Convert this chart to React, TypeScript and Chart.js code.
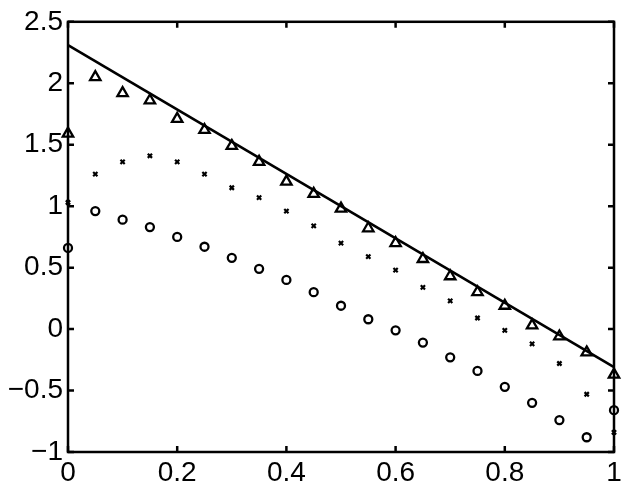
import React, { useEffect, useRef } from "react";
import { Chart, registerables } from "chart.js";

Chart.register(...registerables);

const xValues = [0, 0.05, 0.1, 0.15, 0.2, 0.25, 0.3, 0.35, 0.4, 0.45, 0.5, 0.55, 0.6, 0.65, 0.7, 0.75, 0.8, 0.85, 0.9, 0.95, 1.0];
const triangleValues = [1.59, 2.05, 1.92, 1.86, 1.71, 1.62, 1.49, 1.36, 1.2, 1.1, 0.98, 0.82, 0.7, 0.57, 0.43, 0.3, 0.19, 0.03, -0.06, -0.19, -0.37];
const crossValues = [1.03, 1.26, 1.36, 1.41, 1.36, 1.26, 1.15, 1.07, 0.96, 0.84, 0.7, 0.59, 0.48, 0.34, 0.23, 0.09, -0.01, -0.12, -0.28, -0.53, -0.84];
const circleValues = [0.66, 0.96, 0.89, 0.83, 0.75, 0.67, 0.58, 0.49, 0.4, 0.3, 0.19, 0.08, -0.01, -0.11, -0.23, -0.34, -0.47, -0.6, -0.74, -0.88, -0.66];
const lineX = [0, 1];
const lineY = [2.31, -0.31];
const xTickLabels = ["0", "0.2", "0.4", "0.6", "0.8", "1"];
const yTickLabels = ["\u22121", "\u22120.5", "0", "0.5", "1", "1.5", "2", "2.5"];

const toPoints = (xs: number[], ys: number[]) => xs.map((x, i) => ({ x, y: ys[i] }));

const boxPlugin = {
  id: "boxTicks",
  afterDatasetsDraw(chart: any) {
    const { ctx, chartArea, scales } = chart;
    const { left, right, top, bottom } = chartArea;
    const len = 6;
    ctx.save();
    ctx.strokeStyle = "#000";
    ctx.lineWidth = 2.5;
    ctx.beginPath();
    scales.x.ticks.forEach((t: any) => {
      const px = scales.x.getPixelForValue(t.value);
      ctx.moveTo(px, bottom);
      ctx.lineTo(px, bottom - len);
      ctx.moveTo(px, top);
      ctx.lineTo(px, top + len);
    });
    scales.y.ticks.forEach((t: any) => {
      const py = scales.y.getPixelForValue(t.value);
      ctx.moveTo(left, py);
      ctx.lineTo(left + len, py);
      ctx.moveTo(right, py);
      ctx.lineTo(right - len, py);
    });
    ctx.stroke();
    ctx.strokeRect(left, top, right - left, bottom - top);
    ctx.restore();
  },
};

export default function App() {
  const ref = useRef<HTMLCanvasElement | null>(null);
  useEffect(() => {
    if (!ref.current) return;
    const font = { family: "'Liberation Sans', Arial, sans-serif", size: 28 };
    const chart = new Chart(ref.current, {
      type: "scatter",
      data: {
        datasets: [
          {
            type: "line",
            data: toPoints(lineX, lineY),
            borderColor: "#000",
            borderWidth: 2.6,
            pointRadius: 0,
            fill: false,
            clip: false,
          } as any,
          {
            data: toPoints(xValues, triangleValues),
            pointStyle: "triangle",
            pointRadius: 6,
            borderColor: "#000",
            backgroundColor: "rgba(0,0,0,0)",
            borderWidth: 2.3,
            clip: false,
          } as any,
          {
            data: toPoints(xValues, crossValues),
            pointStyle: "crossRot",
            pointRadius: 3,
            borderColor: "#000",
            borderWidth: 2.2,
            clip: false,
          } as any,
          {
            data: toPoints(xValues, circleValues),
            pointStyle: "circle",
            pointRadius: 4,
            borderColor: "#000",
            backgroundColor: "rgba(0,0,0,0)",
            borderWidth: 2.3,
            clip: false,
          } as any,
        ],
      },
      options: {
        animation: false,
        responsive: false,
        layout: { padding: { top: 21, right: 15, left: 0, bottom: 0 } },
        plugins: { legend: { display: false }, tooltip: { enabled: false } },
        scales: {
          x: {
            type: "linear",
            min: 0,
            max: 1,
            grid: { display: false, drawTicks: false },
            border: { display: false },
            ticks: {
              stepSize: 0.2,
              color: "#000",
              font,
              padding: 4,
              maxRotation: 0,
              callback: (_v: any, i: number) => xTickLabels[i],
            },
            afterFit: (s: any) => {
              s.height = 39;
            },
          },
          y: {
            type: "linear",
            min: -1,
            max: 2.5,
            grid: { display: false, drawTicks: false },
            border: { display: false },
            ticks: {
              stepSize: 0.5,
              color: "#000",
              font,
              padding: 5,
              callback: (_v: any, i: number) => yTickLabels[i],
            },
            afterFit: (s: any) => {
              s.width = 68;
            },
          },
        },
      },
      plugins: [boxPlugin],
    } as any);
    return () => chart.destroy();
  }, []);
  return (
    <div style={{ position: "fixed", left: 0, top: 0, width: 629, height: 491, background: "#fff" }}>
      <canvas ref={ref} width={629} height={491} />
    </div>
  );
}
